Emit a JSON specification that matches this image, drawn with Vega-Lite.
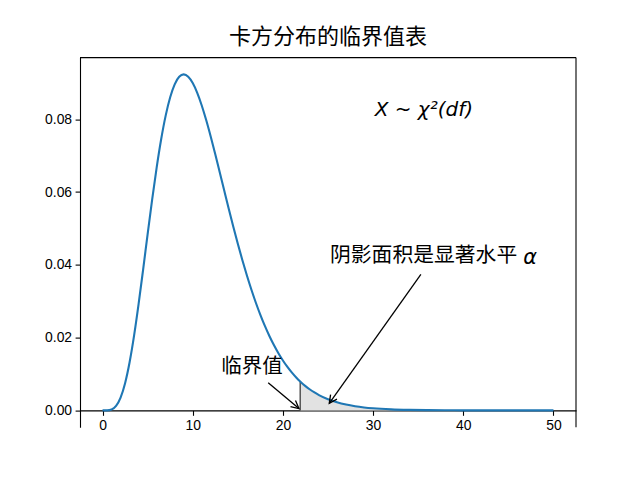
{
  "$schema": "https://vega.github.io/schema/vega-lite/v6.json",
  "autosize": {"type": "none"},
  "padding": {"left": 80, "top": 57.6, "right": 64, "bottom": 52.8},
  "width": 496,
  "height": 369.6,
  "background": "white",
  "title": {"text": "卡方分布的临界值表", "font": "Noto Sans CJK SC", "fontSize": 22, "fontWeight": "normal", "color": "black", "anchor": "middle", "offset": 8},
  "config": {
    "view": {"stroke": null},
    "axis": {"grid": false, "domainColor": "black", "domainWidth": 1.1, "tickColor": "black", "tickWidth": 1.1, "tickSize": 4.9, "labelColor": "black", "labelFont": "Liberation Sans", "labelFontSize": 13.9, "labelPadding": 3.5, "title": null}
  },
  "datasets": {
    "curve": [
      {"x": 0, "y": 0}, {"x": 0.5, "y": 0.0000145}, {"x": 1, "y": 0.000256}, {"x": 1.5, "y": 0.0012365},
      {"x": 2, "y": 0.0035142}, {"x": 2.5, "y": 0.0074706}, {"x": 3, "y": 0.013216}, {"x": 3.5, "y": 0.020596},
      {"x": 4, "y": 0.029253}, {"x": 4.5, "y": 0.038707}, {"x": 5, "y": 0.04843}, {"x": 5.5, "y": 0.057918},
      {"x": 6, "y": 0.066725}, {"x": 6.5, "y": 0.074498}, {"x": 7, "y": 0.080984}, {"x": 7.5, "y": 0.086032},
      {"x": 8, "y": 0.089581}, {"x": 8.5, "y": 0.091648}, {"x": 9, "y": 0.092311}, {"x": 9.5, "y": 0.091695},
      {"x": 10, "y": 0.089953}, {"x": 10.5, "y": 0.087256}, {"x": 11, "y": 0.083779}, {"x": 11.5, "y": 0.079696},
      {"x": 12, "y": 0.075169}, {"x": 12.5, "y": 0.070347}, {"x": 13, "y": 0.065361}, {"x": 13.5, "y": 0.060326},
      {"x": 14, "y": 0.055336}, {"x": 14.5, "y": 0.050467}, {"x": 15, "y": 0.045782}, {"x": 15.5, "y": 0.041323},
      {"x": 16, "y": 0.037125}, {"x": 16.5, "y": 0.033207}, {"x": 17, "y": 0.02958}, {"x": 17.5, "y": 0.026247},
      {"x": 18, "y": 0.023204}, {"x": 18.5, "y": 0.020443}, {"x": 19, "y": 0.017951}, {"x": 19.5, "y": 0.015714},
      {"x": 20, "y": 0.013715}, {"x": 20.5, "y": 0.011936}, {"x": 21, "y": 0.010361}, {"x": 21.5, "y": 0.0089701},
      {"x": 21.92, "y": 0.0079324}, {"x": 22, "y": 0.0077473}, {"x": 22.5, "y": 0.0066757}, {"x": 23, "y": 0.0057396},
      {"x": 23.5, "y": 0.0049242}, {"x": 24, "y": 0.0042161}, {"x": 25, "y": 0.0030729}, {"x": 26, "y": 0.0022236},
      {"x": 27, "y": 0.0015983}, {"x": 28, "y": 0.0011418}, {"x": 29, "y": 0.00081097}, {"x": 30, "y": 0.00057295},
      {"x": 32, "y": 0.0002818}, {"x": 34, "y": 0.00013619}, {"x": 36, "y": 0.000064797}, {"x": 38, "y": 0.000030403},
      {"x": 40, "y": 0.0000141}, {"x": 42, "y": 0.00000645}, {"x": 45, "y": 0.00000196}, {"x": 50, "y": 0.00000026}
    ],
    "crit": [{"x": 21.92, "y": 0, "y2": 0.0079324}],
    "arrow1": [{"x": 18.37, "y": 0.0076, "x2": 21.78, "y2": 0.0005}],
    "arrow2": [{"x": 35.3, "y": 0.03738, "x2": 25.14, "y2": 0.00195}],
    "lab1": [{"x": 16.58, "y": 0.01206, "label": "临界值"}],
    "lab2": [{"x": 35.6, "y": 0.0424, "label": "阴影面积是显著水平"}],
    "lab2a": [{"x": 47.4, "y": 0.0419, "label": "α"}],
    "lab3": [{"x": 35.63, "y": 0.0825, "label": "X ~ χ²(df)"}],
    "frame": [{"x": 52.5, "y": 0.0969266}]
  },
  "layer": [
    {
      "data": {"name": "curve"},
      "transform": [{"filter": "datum.x >= 21.92"}],
      "mark": {"type": "area", "color": "#e2e2e2", "interpolate": "monotone"},
      "encoding": {
        "x": {"field": "x", "type": "quantitative", "scale": {"domain": [-2.5, 52.5], "nice": false, "zero": false}, "axis": {"values": [0, 10, 20, 30, 40, 50], "offset": -16.8}},
        "y": {"field": "y", "type": "quantitative", "scale": {"domain": [-0.0046156, 0.0969266], "nice": false, "zero": false}, "axis": {"values": [0, 0.02, 0.04, 0.06, 0.08], "format": ".2f"}},
        "y2": {"datum": 0}
      }
    },
    {
      "data": {"name": "crit"},
      "mark": {"type": "rule", "color": "#555555", "strokeWidth": 1.5},
      "encoding": {
        "x": {"field": "x", "type": "quantitative"},
        "y": {"field": "y", "type": "quantitative"},
        "y2": {"field": "y2"}
      }
    },
    {
      "data": {"name": "curve"},
      "mark": {"type": "line", "color": "#1f77b4", "strokeWidth": 2.1, "interpolate": "monotone"},
      "encoding": {
        "x": {"field": "x", "type": "quantitative"},
        "y": {"field": "y", "type": "quantitative"}
      }
    },
    {
      "data": {"name": "frame"},
      "mark": {"type": "rule", "color": "black", "strokeWidth": 1.1},
      "encoding": {"x": {"field": "x", "type": "quantitative"}}
    },
    {
      "data": {"name": "frame"},
      "mark": {"type": "rule", "color": "black", "strokeWidth": 1.1},
      "encoding": {"y": {"field": "y", "type": "quantitative"}}
    },
    {
      "data": {"name": "arrow1"},
      "mark": {"type": "rule", "color": "black", "strokeWidth": 1.3},
      "encoding": {
        "x": {"field": "x", "type": "quantitative"}, "y": {"field": "y", "type": "quantitative"},
        "x2": {"field": "x2"}, "y2": {"field": "y2"}
      }
    },
    {
      "data": {"name": "arrow1"},
      "mark": {"type": "point", "shape": "M-0.5,1L0,0L0.5,1", "filled": false, "stroke": "black", "strokeWidth": 1.3, "size": 243, "opacity": 1},
      "encoding": {
        "x": {"field": "x2", "type": "quantitative"}, "y": {"field": "y2", "type": "quantitative"},
        "angle": {"value": 130}
      }
    },
    {
      "data": {"name": "arrow2"},
      "mark": {"type": "rule", "color": "black", "strokeWidth": 1.3},
      "encoding": {
        "x": {"field": "x", "type": "quantitative"}, "y": {"field": "y", "type": "quantitative"},
        "x2": {"field": "x2"}, "y2": {"field": "y2"}
      }
    },
    {
      "data": {"name": "arrow2"},
      "mark": {"type": "point", "shape": "M-0.5,1L0,0L0.5,1", "filled": false, "stroke": "black", "strokeWidth": 1.3, "size": 243, "opacity": 1},
      "encoding": {
        "x": {"field": "x2", "type": "quantitative"}, "y": {"field": "y2", "type": "quantitative"},
        "angle": {"value": 215.3}
      }
    },
    {
      "data": {"name": "lab1"},
      "mark": {"type": "text", "font": "Noto Sans CJK SC", "fontSize": 20.5, "color": "black", "align": "center", "baseline": "middle"},
      "encoding": {"x": {"field": "x", "type": "quantitative"}, "y": {"field": "y", "type": "quantitative"}, "text": {"field": "label"}}
    },
    {
      "data": {"name": "lab2"},
      "mark": {"type": "text", "font": "Noto Sans CJK SC", "fontSize": 20.8, "color": "black", "align": "center", "baseline": "middle"},
      "encoding": {"x": {"field": "x", "type": "quantitative"}, "y": {"field": "y", "type": "quantitative"}, "text": {"field": "label"}}
    },
    {
      "data": {"name": "lab2a"},
      "mark": {"type": "text", "font": "DejaVu Sans", "fontStyle": "italic", "fontSize": 20.8, "color": "black", "align": "center", "baseline": "middle"},
      "encoding": {"x": {"field": "x", "type": "quantitative"}, "y": {"field": "y", "type": "quantitative"}, "text": {"field": "label"}}
    },
    {
      "data": {"name": "lab3"},
      "mark": {"type": "text", "font": "DejaVu Sans", "fontStyle": "italic", "fontSize": 20, "color": "black", "align": "center", "baseline": "middle"},
      "encoding": {"x": {"field": "x", "type": "quantitative"}, "y": {"field": "y", "type": "quantitative"}, "text": {"field": "label"}}
    }
  ]
}
